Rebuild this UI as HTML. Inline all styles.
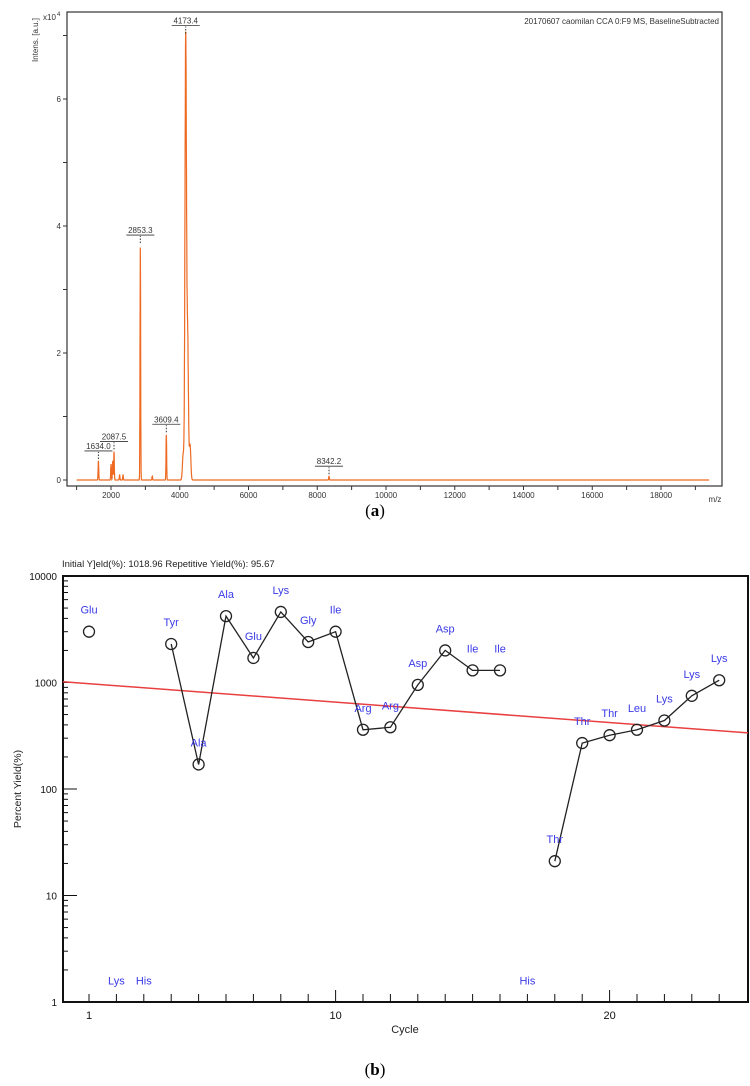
<!DOCTYPE html>
<html><head><meta charset="utf-8"><style>
html,body{margin:0;padding:0;background:#fff;width:750px;height:1086px;overflow:hidden}
svg{display:block}
</style></head><body>
<svg id="s" width="750" height="1086" viewBox="0 0 750 1086" xmlns="http://www.w3.org/2000/svg" font-family="Liberation Sans, sans-serif">
<g id="a"></g>
<text x="375" y="516" font-family="Liberation Serif, serif" font-size="17" text-anchor="middle">(<tspan font-weight="bold">a</tspan>)</text>
<g id="b"></g>
<text x="375" y="1075" font-family="Liberation Serif, serif" font-size="17" text-anchor="middle">(<tspan font-weight="bold">b</tspan>)</text>
</svg>
<script>
// ---- Chart A data ----
const peakMz = [1634.0, 2087.5, 2853.3, 3609.4, 4173.4, 8342.2];
const peakInt = [0.30, 0.45, 3.7, 0.72, 7.0, 0.06];
const peakLabelShow = ["1634.0","2087.5","2853.3","3609.4","4173.4","8342.2"];
const minorMz = [2000, 2050, 2250, 2350, 3200, 4230, 4300, 4100];
const minorInt = [0.25, 0.30, 0.08, 0.08, 0.06, 2.2, 0.55, 0.4];
const xTicksA = [2000,4000,6000,8000,10000,12000,14000,16000,18000];
const yTicksA = [0,2,4,6];

// ---- Chart B data ----
const cycles = [1,4,5,6,7,8,9,10,11,12,13,14,15,16,18,19,20,21,22,23,24];
const yields = [3000,2300,170,4200,1700,4600,2400,3000,360,380,950,2000,1300,1300,21,270,320,360,440,750,1050];
const residues = ["Glu","Tyr","Ala","Ala","Glu","Lys","Gly","Ile","Arg","Arg","Asp","Asp","Ile","Ile","Thr","Thr","Thr","Leu","Lys","Lys","Lys"];
const segments = [[1,1],[4,16],[18,24]];
const lowCycles = [2,3,17];
const lowResidues = ["Lys","His","His"];
const initialYield = 1018.96;
const repYield = 95.67;
const yTicksB = [1,10,100,1000,10000];
const xTicksB = [1,10,20];

const NS="http://www.w3.org/2000/svg";
function mk(p,t,at,txt){const e=document.createElementNS(NS,t);for(const k in at)e.setAttribute(k,at[k]);if(txt!=null)e.textContent=txt;p.appendChild(e);return e;}

// ===== Chart A =====
(function(){
const g=document.getElementById('a');
const L=67,R=722,T=12,B=486;
const xs=m=>111+(m-2000)*68.75/2000;
const ys=v=>480-v*63.5;
let e=mk(g,'rect',{x:L,y:T,width:R-L,height:B-T,fill:'none',stroke:'#333','stroke-width':1.2});

for(let m=1000;m<=19000;m+=1000){const x=xs(m);if(x<L||x>R)continue;mk(g,'line',{x1:x,y1:B,x2:x,y2:B+4,stroke:'#333'});}
xTicksA.forEach(m=>{e=mk(g,'text',{x:xs(m),y:B+12,'font-size':8,'text-anchor':'middle',fill:'#333'},String(m));});
for(let v=0;v<=7;v++){const y=ys(v);mk(g,'line',{x1:L-4,y1:y,x2:L,y2:y,stroke:'#333'});}
yTicksA.forEach(v=>{e=mk(g,'text',{x:L-6,y:ys(v)+3,'font-size':8,'text-anchor':'end',fill:'#333'},String(v));});
e=mk(g,'text',{x:43,y:20,'font-size':8,fill:'#333'},'x10');
mk(g,'text',{x:57,y:16,'font-size':6,fill:'#333'},'4');
e=mk(g,'text',{x:0,y:0,'font-size':8,fill:'#333',transform:'translate(38,62) rotate(-90)'},'Intens. [a.u.]');
e=mk(g,'text',{x:715,y:502,'font-size':8,fill:'#333','text-anchor':'middle'},'m/z');
e=mk(g,'text',{x:719,y:24,'font-size':8,fill:'#333','text-anchor':'end'},'20170607 caomilan CCA 0:F9 MS, BaselineSubtracted');
const allM=peakMz.concat(minorMz), allI=peakInt.concat(minorInt);
let d='';
for(let m=1000;m<=19400;m+=4){
  let v=0;
  for(let i=0;i<allM.length;i++){const w=allM[i]>4000&&allM[i]<4400?22:9;const dd=(m-allM[i])/w;v+=allI[i]*Math.exp(-dd*dd/2);}
  const x=xs(m); if(x<L+1||x>R-1)continue;
  d+=(d?'L':'M')+x.toFixed(1)+','+ys(v).toFixed(1);
}
e=mk(g,'path',{d:d,fill:'none',stroke:'#ee6a22','stroke-width':1.2});
peakMz.forEach((m,i)=>{
  const x=xs(m),y=ys(peakInt[i]);
  mk(g,'line',{x1:x,y1:y-2,x2:x,y2:y-9,stroke:'#333','stroke-dasharray':'1.5,1.5'});
  mk(g,'line',{x1:x-14,y1:y-10,x2:x+14,y2:y-10,stroke:'#333','stroke-width':0.8});
  e=mk(g,'text',{x:x,y:y-12,'font-size':8,'text-anchor':'middle',fill:'#333'},peakLabelShow[i]);
  
});
})();

// ===== Chart B =====
(function(){
const g=document.getElementById('b');
const L=63,R=748,T=576,B=1002;
const xs=c=>89+(c-1)*27.4;
const ys=v=>B-Math.log10(v)*(B-T)/4;
let e=mk(g,'text',{x:62,y:567,'font-size':9.5,fill:'#222'},'Initial Y]eld(%): '+initialYield.toFixed(2)+'  Repetitive Yield(%): '+repYield.toFixed(2));

e=mk(g,'rect',{x:L,y:T,width:R-L,height:B-T,fill:'none',stroke:'#111','stroke-width':2});

for(let dec=0;dec<4;dec++)for(let k=2;k<=9;k++){const y=ys(k*Math.pow(10,dec));mk(g,'line',{x1:L,y1:y,x2:L+5,y2:y,stroke:'#111'});}
yTicksB.forEach(v=>{mk(g,'line',{x1:L,y1:ys(v),x2:L+14,y2:ys(v),stroke:'#111'});
 e=mk(g,'text',{x:L-6,y:ys(v)+4,'font-size':10,'text-anchor':'end',fill:'#111'},String(v));});
for(let c=1;c<=24;c++){const x=xs(c);mk(g,'line',{x1:x,y1:B,x2:x,y2:B-(c%10==0?12:8),stroke:'#111'});}
xTicksB.forEach(c=>{e=mk(g,'text',{x:xs(c),y:B+17,'font-size':11,'text-anchor':'middle',fill:'#111'},String(c));});
e=mk(g,'text',{x:405,y:1033,'font-size':11,'text-anchor':'middle',fill:'#222'},'Cycle');
e=mk(g,'text',{x:0,y:0,'font-size':10.5,fill:'#222','text-anchor':'middle',transform:'translate(21,789) rotate(-90)'},'Percent Yield(%)');
const c0=(L-89)/27.4+1, c1=(R-89)/27.4+1, r=repYield/100;
e=mk(g,'line',{x1:L,y1:ys(initialYield*Math.pow(r,c0)),x2:R,y2:ys(initialYield*Math.pow(r,c1)),stroke:'#e84040','stroke-width':1.5});

segments.forEach(sg=>{
  const pts=[];cycles.forEach((c,i)=>{if(c>=sg[0]&&c<=sg[1])pts.push(xs(c).toFixed(1)+','+ys(yields[i]).toFixed(1));});
  if(pts.length>1){e=mk(g,'polyline',{points:pts.join(' '),fill:'none',stroke:'#222','stroke-width':1.3});}
});
cycles.forEach((c,i)=>{
  const x=xs(c),y=ys(yields[i]);
  e=mk(g,'circle',{cx:x,cy:y,r:5.5,fill:'none',stroke:'#222','stroke-width':1.3});
  e=mk(g,'text',{x:x,y:y-18,'font-size':11,'text-anchor':'middle',fill:'#3a3ae8'},residues[i]);
});
lowCycles.forEach((c,i)=>{e=mk(g,'text',{x:xs(c),y:ys(1.6)+4,'font-size':11,'text-anchor':'middle',fill:'#3a3ae8'},lowResidues[i]);});
})();
</script>
</body></html>
